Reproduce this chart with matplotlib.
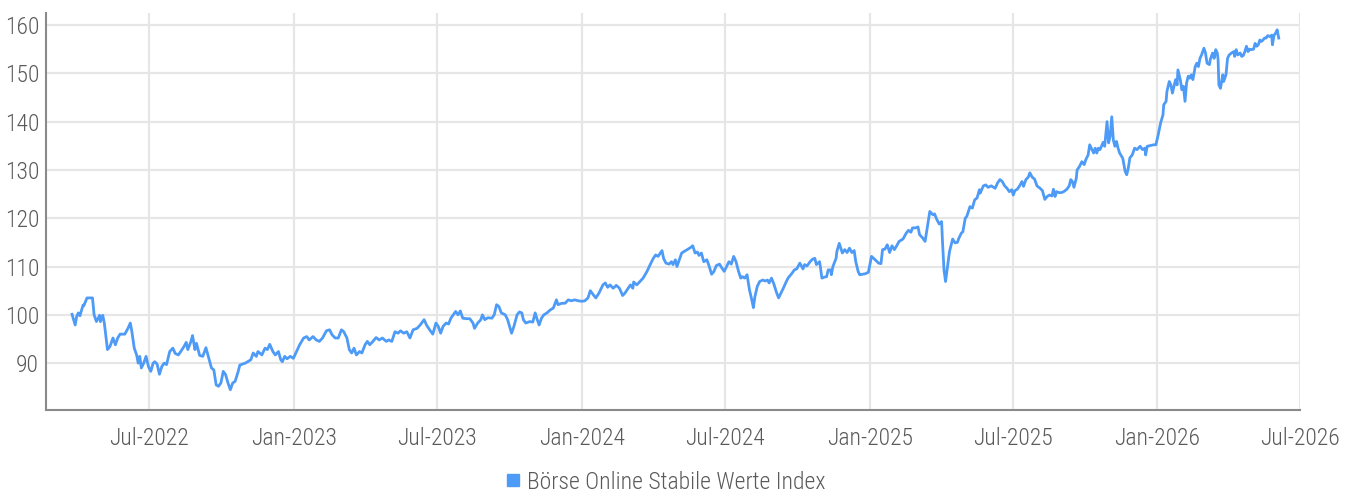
import matplotlib
matplotlib.use("Agg")
import matplotlib.pyplot as plt
import matplotlib.dates as mdates
from matplotlib.lines import Line2D
from matplotlib import font_manager
import pandas as pd

# ---------------- data ----------------
start_date = "2022-03-25"
series_name = "Börse Online Stabile Werte Index"

day_offsets = [
    0, 4, 6, 8, 10, 14, 15, 19, 26, 28, 31, 35, 36, 39, 41, 45, 48, 52, 55, 58, 61, 67, 71, 74, 76, 79, 82, 84, 86, 88,
    91, 94, 97, 100, 103, 105, 108, 111, 114, 117, 120, 124, 128, 131, 135, 138, 142, 145, 147, 151, 153, 156, 158, 162,
    166, 170, 173, 177, 180, 183, 186, 189, 192, 195, 198, 201, 204, 207, 211,
    213, 220, 227, 230, 234, 236, 241, 245, 248, 251, 255, 258, 262, 265, 267, 270, 273, 277, 281, 285, 289, 294, 298,
    301, 306, 310, 314, 318, 323, 327, 330, 334, 338, 342, 345, 349, 352, 355, 358, 361, 365, 368, 372, 375, 378, 382,
    386, 390, 394, 399, 402, 406, 410, 414, 417, 421, 425, 429, 433, 438,
    442, 447, 450, 454, 458, 462, 465, 468, 471, 475, 478, 481, 484, 487, 490, 493, 496, 501, 505, 509, 511, 515, 519,
    521, 524, 528, 533, 536, 539, 542, 545, 550, 553, 555, 558, 561, 565, 568, 571, 573, 576, 581, 585, 588, 590, 593,
    596, 599, 603, 607, 611, 615, 617, 622, 626, 630, 634, 638, 643, 647, 651, 655, 658, 662, 665, 669, 674, 677, 680,
    683, 687, 691, 695, 699, 702, 706, 709, 712, 713, 717, 721, 725, 730, 734, 738, 741, 744, 749, 751, 754, 758, 761,
    763, 766, 768, 771, 774, 777, 781, 785, 788, 791, 794, 796, 799, 802, 806, 809, 812, 815, 818, 822, 825, 828, 831,
    834, 837, 840, 843, 846, 849, 851, 854, 857, 860, 863, 865, 867, 870, 873, 877, 880, 883, 885, 888, 891, 894, 897,
    900, 903, 906, 909, 914, 917, 920, 923,
    924, 928, 930, 933, 937, 940, 943, 945, 949, 950, 952, 955, 958, 960, 963, 964, 966, 970, 971, 974, 976, 978, 981,
    984, 987, 990, 993, 995, 998, 1000, 1007, 1011, 1015, 1019, 1024, 1027, 1029, 1032, 1035, 1038, 1041, 1044, 1047,
    1050, 1055, 1059, 1062, 1065, 1067, 1071, 1074, 1076, 1080, 1083, 1086, 1089, 1093, 1095, 1098, 1101, 1104, 1105,
    1107, 1109, 1112, 1114, 1118, 1121, 1124, 1126, 1129, 1131, 1134, 1136,
    1140, 1143, 1146, 1149, 1152, 1153, 1157, 1160, 1163, 1167, 1172, 1175, 1178, 1181, 1184, 1187, 1190, 1193, 1195,
    1197, 1200, 1203, 1206, 1208, 1211, 1214, 1216, 1219, 1222, 1225, 1229, 1232, 1235, 1238, 1241, 1244, 1246, 1248,
    1250, 1253, 1256, 1259, 1263, 1266, 1268, 1270, 1272, 1275, 1276, 1279, 1282, 1285, 1287, 1290, 1292, 1295, 1297,
    1299, 1301, 1303, 1305, 1307, 1309, 1311, 1314, 1316, 1318, 1320, 1322, 1324, 1326, 1328, 1330, 1334, 1337, 1339,
    1341,
    1343, 1346, 1349, 1352, 1356, 1359, 1362, 1363, 1365, 1368, 1373, 1376, 1379, 1382, 1385, 1386, 1389, 1390, 1393,
    1395, 1397, 1399, 1401, 1403, 1404, 1407, 1409, 1411, 1413, 1415, 1417, 1419, 1421, 1423, 1426, 1428, 1430, 1432,
    1434, 1437, 1439, 1441, 1444, 1445, 1448, 1450, 1452, 1454, 1455, 1456, 1458, 1461, 1462, 1465, 1467, 1469, 1472,
    1475, 1476, 1478, 1480, 1483, 1485, 1487, 1489, 1491, 1493, 1495, 1497, 1500, 1502, 1504, 1506, 1508, 1510, 1512,
    1514, 1516, 1518, 1521, 1523, 1524, 1526, 1528, 1530, 1532,
]

index_values = [
    100.1, 97.9, 99.7, 100.4, 99.8, 102.0, 101.9, 103.5, 103.5, 100.0, 98.6, 99.9, 98.6, 99.9, 98.3, 92.8, 93.4, 95.2,
    93.8, 95.2, 96.0, 96.0, 97.2, 98.3, 96.5, 93.1, 91.7, 90.0, 91.4, 89.0, 90.0, 91.4, 89.3, 88.3, 90.0, 90.3, 89.8,
    87.7, 89.3, 90.0, 89.7, 92.4, 93.1, 92.0, 91.7, 92.4, 93.4, 94.3, 92.8, 94.5, 95.7, 92.8, 94.1, 91.6, 91.4, 93.2,
    91.4, 89.0, 88.6, 85.5, 85.2, 85.9, 88.3, 87.6, 85.9, 84.5, 85.9, 86.2, 88.3,
    89.6, 90.0, 90.7, 92.1, 91.4, 92.4, 91.7, 93.1, 92.8, 93.9, 92.4, 91.7, 92.4, 90.7, 90.3, 91.4, 90.9, 91.4, 91.0,
    92.4, 93.8, 95.2, 95.5, 94.8, 95.5, 94.8, 94.5, 95.2, 96.7, 96.9, 95.9, 95.2, 95.2, 96.9, 96.5, 95.2, 92.8, 92.1,
    93.1, 91.7, 92.4, 92.1, 93.8, 94.5, 93.8, 94.5, 95.3, 94.8, 95.2, 94.5, 94.8, 94.5, 96.5, 96.2, 96.7, 96.2, 96.5,
    95.2, 96.9, 97.2,
    97.9, 99.0, 97.9, 96.9, 96.0, 98.3, 97.6, 96.2, 97.6, 98.3, 98.1, 99.3, 100.0, 100.7, 100.0, 100.8, 99.3, 99.2,
    99.2, 98.3, 97.2, 98.3, 99.0, 100.0, 99.0, 99.4, 99.3, 100.0, 102.1, 101.7, 100.4, 100.0, 99.0, 97.9, 96.2, 97.6,
    100.0, 100.6, 100.4, 99.0, 98.3, 98.6, 98.5, 100.4, 99.3, 97.9, 99.3, 100.0, 100.4, 101.0, 101.4, 103.1, 102.1,
    102.4, 102.4, 103.1, 102.9, 103.1, 102.9, 102.8, 102.9, 103.5, 105.0, 104.1, 103.5, 104.5, 106.2, 106.6, 105.7,
    106.2, 105.5, 106.1, 105.5, 104.0, 104.5, 105.5, 106.2, 105.5, 106.8, 106.2, 106.9, 107.6, 109.0, 110.4, 111.7,
    112.4, 112.1, 113.3, 111.7, 110.7, 110.5, 111.0, 110.4, 111.4, 110.0, 111.4, 112.8, 113.1, 113.5, 113.9, 114.3,
    112.8, 113.0, 112.3, 112.8, 111.0, 111.4, 110.0, 108.4, 109.0, 110.2, 110.5, 109.7, 109.0, 110.0, 111.0, 110.5,
    112.1, 111.0, 109.1, 107.6, 107.9, 107.6, 108.3, 105.2, 103.1, 101.5, 103.8, 105.9, 106.9, 107.2, 107.0, 107.2,
    106.6, 107.6, 106.4, 104.8, 103.5, 104.5, 105.5, 106.6, 107.6, 108.6, 109.3, 109.5, 110.4,
    110.7, 109.5, 110.4, 110.1, 111.0, 111.5, 111.7, 110.4, 111.0, 110.0, 107.6, 107.8, 107.9, 109.3, 109.3, 108.3,
    110.0, 111.7, 113.1, 114.8, 113.8, 112.8, 113.5, 112.9, 113.8, 112.9, 113.3, 111.0, 109.0, 108.3, 108.5, 108.8,
    112.1, 111.5, 110.7, 110.6, 113.5, 113.6, 114.5, 112.9, 114.3, 113.5, 114.3, 115.2, 115.7, 116.9, 117.5, 117.1,
    118.0, 118.0, 118.2, 116.6, 115.9, 115.2, 118.3, 121.4, 120.7, 120.9, 119.7, 118.8, 119.3, 115.5, 109.3, 106.9,
    110.7, 113.1, 115.7, 114.9, 115.0, 115.9, 116.9, 117.2, 120.0, 120.4,
    122.4, 122.1, 123.8, 124.2, 125.9, 125.2, 126.7, 126.9, 126.4, 126.7, 126.2, 127.3, 128.0, 127.6, 126.7, 126.2,
    125.5, 125.9, 124.8, 125.7, 126.0, 126.7, 127.6, 126.6, 128.0, 128.5, 129.4, 128.5, 128.1, 126.7, 126.2, 125.7,
    123.9, 124.5, 124.8, 124.6, 126.0, 124.5, 125.5, 125.3, 125.3, 125.5, 126.0, 126.7, 128.0, 127.6, 126.4, 128.3,
    130.0, 130.7, 131.7, 131.1, 132.1, 133.1, 135.2, 134.2, 133.5, 134.5, 133.5, 134.5, 134.2, 134.9, 135.7, 134.9,
    140.0, 135.6, 137.0, 141.0, 136.2, 134.9, 135.9, 134.5, 133.5, 132.4, 129.7, 129.0, 130.4,
    132.5, 133.1, 134.5, 134.2, 134.9, 134.2, 134.5, 133.1, 134.9, 135.0, 135.2, 135.2, 137.3, 139.7, 141.4, 143.5,
    144.2, 146.2, 148.3, 147.6, 145.9, 147.3, 148.7, 147.6, 150.7, 148.7, 146.6, 147.3, 144.2, 148.0, 149.4, 149.0,
    149.7, 148.7, 151.4, 152.1, 151.4, 153.1, 153.8, 155.2, 154.2, 152.1, 151.8, 152.8, 154.2, 153.1, 154.9, 154.2,
    152.8, 147.6, 146.9, 149.7, 148.3, 149.7, 153.1, 153.8, 154.2, 154.5, 153.5, 154.9, 153.8, 154.2, 153.5, 153.7,
    154.5, 155.6, 154.5, 155.0, 154.9, 155.0, 156.2, 155.6, 155.9, 156.9, 156.6, 156.9, 157.3, 157.3, 157.8, 157.6,
    157.9, 155.9, 157.9, 158.3, 159.0, 157.3,
]

x_ticks = ["2022-07-01", "2023-01-01", "2023-07-01", "2024-01-01", "2024-07-01",
           "2025-01-01", "2025-07-01", "2026-01-01", "2026-07-01"]
y_ticks = [90, 100, 110, 120, 130, 140, 150, 160]

# ---------------- font ----------------
available = {f.name for f in font_manager.fontManager.ttflist}
family = "DejaVu Sans"
for cand in ["Roboto Condensed", "Liberation Sans Narrow", "DejaVu Sans Condensed", "Roboto"]:
    if cand in available:
        family = cand
        break
plt.rcParams["font.family"] = [family, "DejaVu Sans"]
plt.rcParams["font.weight"] = "light"

line_color = "#4d9bf7"
text_color = "#5a5a5a"
grid_color = "#e6e6e6"

dates = pd.Timestamp(start_date) + pd.to_timedelta(day_offsets, unit="D")

fig = plt.figure(figsize=(13.58, 4.92), dpi=100)
ax = fig.add_axes([0.0339, 0.1667, 0.9234, 0.807])

ax.plot(dates, index_values, color=line_color, linewidth=2.0, solid_joinstyle="round")

ax.set_xlim(pd.Timestamp("2022-02-20"), pd.Timestamp("2026-07-01"))
ax.set_ylim(80.3, 162.5)
ax.set_xticks(pd.to_datetime(x_ticks))
ax.xaxis.set_major_formatter(mdates.DateFormatter("%b-%Y"))
ax.set_yticks(y_ticks)

ax.grid(True, color=grid_color, linewidth=1.6)
ax.set_axisbelow(True)
for s in ["top", "right"]:
    ax.spines[s].set_visible(False)
for s in ["left", "bottom"]:
    ax.spines[s].set_color("#8a8a8a")
    ax.spines[s].set_linewidth(1.5)

ax.tick_params(axis="both", length=0, labelsize=17, labelcolor=text_color)
ax.tick_params(axis="x", pad=12)
ax.tick_params(axis="y", pad=5)

handle = Line2D([], [], linestyle="none", marker="s", markersize=8,
                markerfacecolor=line_color, markeredgecolor=line_color)
fig.legend([handle], [series_name], loc="center", bbox_to_anchor=(0.49, 0.02),
           frameon=False, fontsize=17, labelcolor=text_color,
           handlelength=0.6, handletextpad=0.3, borderpad=0)

fig.savefig("out.png", dpi=100)
